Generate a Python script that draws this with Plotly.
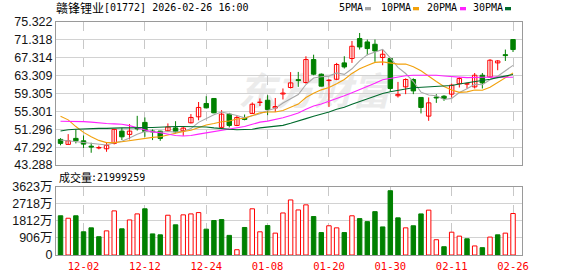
import plotly.graph_objects as go

# ---------------- data ----------------
dates = ["11-27", "11-28", "12-01", "12-02", "12-03", "12-04", "12-05", "12-08", "12-09", "12-10",
         "12-11", "12-12", "12-15", "12-16", "12-17", "12-18", "12-19", "12-22", "12-23", "12-24",
         "12-29", "12-30", "12-31", "01-02", "01-05", "01-06", "01-07", "01-08", "01-09", "01-12",
         "01-13", "01-14", "01-15", "01-16", "01-19", "01-20", "01-21", "01-22", "01-23", "01-26",
         "01-27", "01-28", "01-29", "01-30", "02-02", "02-03", "02-04", "02-05", "02-06", "02-09",
         "02-10", "02-11", "02-12", "02-13", "02-16", "02-20", "02-23", "02-24", "02-25", "02-26"]

opens = [49.02, 47.9, 49.25, 48.71, 47.5, 47.1, 46.92, 48.13, 50.88, 50.14,
         51.6, 52.83, 50.9, 50.88, 50.95, 51.6, 50.95, 52.74, 54.08, 57.07,
         58.19, 51.71, 54.68, 52.15, 53.8, 54.84, 57.3, 57.8, 56.05, 59.2,
         60.65, 62.4, 61.77, 66.91, 63.63, 62.2, 62.5, 66.16, 67.14, 71.61,
         70.85, 70.34, 67.36, 67.14, 58.8, 60.79, 62.44, 58.42, 54.24, 58.5,
         58.7, 59.16, 61.5, 61.4, 60.79, 63.4, 63.0, 66.16, 68.0, 71.39]
highs = [49.3, 50.2, 51.26, 49.9, 48.27, 47.6, 48.27, 51.3, 51.6, 52.45,
         54.3, 53.94, 51.26, 50.95, 52.6, 53.1, 52.0, 54.7, 57.4, 58.7,
         58.3, 55.58, 54.97, 54.3, 54.6, 57.3, 58.2, 58.93, 58.3, 60.43,
         64.1, 64.14, 67.65, 68.0, 63.8, 62.5, 66.16, 67.65, 71.07, 72.86,
         71.39, 71.4, 69.15, 67.36, 61.9, 62.7, 62.7, 58.42, 58.42, 59.16,
         58.93, 61.5, 63.0, 61.7, 63.9, 63.9, 67.0, 66.8, 69.15, 71.4]
lows = [47.7, 47.9, 48.13, 47.1, 46.03, 46.8, 46.25, 47.9, 48.87, 49.02,
        51.0, 49.6, 48.87, 48.71, 50.7, 50.37, 49.83, 52.6, 53.3, 55.96,
        54.9, 51.7, 51.7, 52.0, 53.3, 54.7, 56.5, 54.46, 55.2, 57.97,
        60.43, 60.79, 61.5, 63.4, 60.9, 56.3, 62.3, 64.9, 66.16, 69.15,
        67.88, 66.4, 65.64, 59.67, 58.4, 59.16, 59.16, 54.84, 53.18, 57.2,
        57.66, 58.4, 60.65, 60.4, 60.43, 60.43, 62.8, 64.52, 66.6, 68.6]
closes = [48.13, 48.71, 48.71, 47.97, 47.30, 47.20, 47.70, 51.26, 49.60, 50.88,
          51.40, 50.81, 50.70, 49.25, 51.80, 50.73, 51.55, 53.94, 56.18, 56.09,
          54.97, 54.68, 52.15, 53.94, 53.50, 56.90, 57.37, 55.73, 56.40, 59.40,
          61.68, 62.20, 66.91, 63.63, 60.95, 62.30, 65.80, 65.26, 69.89, 69.73,
          69.37, 68.84, 68.10, 60.43, 59.10, 62.44, 59.89, 56.18, 57.21, 58.30,
          58.20, 61.17, 62.66, 61.50, 63.40, 61.68, 66.76, 66.60, 67.80, 69.15]

# volume in 万 shares
volumes = [2080, 1950, 2080, 1230, 1440, 970, 1280, 2340, 1390, 1860,
           2180, 2450, 1120, 1070, 2110, 1600, 2130, 2180, 2250, 1370,
           1830, 1880, 1040, 280, 1460, 2450, 1230, 1560, 1160, 2230,
           2920, 2390, 2660, 2040, 1190, 1550, 1440, 1190, 2080, 1930,
           1770, 2300, 1490, 3410, 1970, 1440, 1550, 2180, 2380, 810,
           440, 1210, 1000, 860, 480, 390, 950, 1070, 1160, 2199.9259]
# 1 = closed above previous close (red), 0 = below (green)
vol_up = [0, 1, 0, 0, 0, 0, 1, 1, 0, 1,
          1, 0, 0, 0, 1, 0, 1, 1, 1, 0,
          0, 0, 0, 1, 0, 1, 1, 0, 1, 1,
          1, 1, 1, 0, 0, 1, 1, 0, 1, 0,
          0, 0, 0, 0, 0, 1, 0, 0, 1, 1,
          0, 1, 1, 0, 1, 0, 1, 0, 1, 1]

ma5 = [48.9, 48.7, 48.6, 48.4, 48.16, 47.98, 47.78, 48.29, 48.61, 49.33,
       50.17, 50.79, 50.68, 50.61, 50.79, 50.66, 50.81, 51.45, 52.84, 53.70,
       54.55, 55.17, 54.81, 54.37, 53.85, 54.23, 54.77, 55.49, 55.98, 57.16,
       58.12, 59.08, 61.32, 62.76, 63.07, 63.20, 63.92, 63.59, 64.84, 66.60,
       68.01, 68.62, 69.19, 67.29, 65.17, 63.78, 61.99, 59.61, 58.96, 58.80,
       57.96, 58.21, 59.51, 60.37, 61.39, 61.28, 62.40, 63.19, 64.45, 65.60]
ma10 = [54.2, 53.4, 51.9, 50.6, 49.6, 48.8, 48.3, 48.3, 48.5, 48.75,
        49.07, 49.28, 49.48, 49.61, 50.06, 50.41, 50.80, 51.07, 51.72, 52.25,
        52.60, 52.99, 53.13, 53.60, 53.77, 54.39, 54.97, 55.15, 55.17, 55.50,
        56.18, 56.93, 58.40, 59.37, 60.12, 60.66, 61.50, 62.45, 63.80, 64.84,
        65.60, 66.27, 66.39, 66.07, 65.88, 65.90, 65.31, 64.40, 63.13, 61.99,
        60.87, 60.10, 59.56, 59.67, 60.10, 60.02, 60.71, 61.75, 62.81, 63.89]
ma20 = [53.1, 53.1, 53.1, 53.0, 52.9, 52.7, 52.6, 52.5, 52.4, 52.1,
        51.6, 51.1, 50.7, 50.5, 50.2, 49.9, 49.8, 49.9, 50.2, 50.50,
        50.84, 51.14, 51.31, 51.61, 51.92, 52.40, 52.89, 53.11, 53.45, 53.87,
        54.39, 54.96, 55.77, 56.49, 56.95, 57.52, 58.24, 58.80, 59.49, 60.17,
        60.89, 61.60, 62.40, 62.72, 63.00, 63.28, 63.40, 63.43, 63.47, 63.41,
        63.24, 63.19, 62.97, 62.87, 62.99, 62.96, 63.01, 63.07, 62.97, 62.94]
ma30 = [50.9, 51.2, 51.3, 51.4, 51.5, 51.5, 51.5, 51.6, 51.6, 51.6,
        51.7, 51.7, 51.7, 51.8, 51.8, 51.9, 51.9, 51.9, 51.8, 51.8,
        51.6, 51.4, 51.3, 51.2, 51.2, 51.3, 51.6, 51.8, 52.0, 52.17,
        52.62, 53.07, 53.67, 54.20, 54.65, 55.15, 55.76, 56.22, 56.90, 57.53,
        58.13, 58.73, 59.31, 59.68, 59.92, 60.31, 60.59, 60.67, 60.70, 60.78,
        60.88, 61.10, 61.45, 61.70, 62.03, 62.19, 62.50, 62.87, 63.25, 63.57]

tick_labels = ["12-02", "12-12", "12-24", "01-08", "01-20", "01-30", "02-11", "02-26"]
price_ticks = [43.288, 47.292, 51.296, 55.301, 59.305, 63.309, 67.314, 71.318, 75.322]
price_tick_text = ["43.288", "47.292", "51.296", "55.301", "59.305", "63.309", "67.314", "71.318", "75.322"]
vol_ticks = [0, 906, 1812, 2718, 3623]
vol_tick_text = ["0", "906万", "1812万", "2718万", "3623万"]

title_cn = "赣锋锂业"
title_rest = "[01772] 2026-02-26 16:00"
vol_label_cn = "成交量"
vol_label_num = ":21999259"
ma_names = ["5PMA", "10PMA", "20PMA", "30PMA"]
watermark = "东方财富"

# ---------------- style ----------------
W, H = 578, 276
ML, MR, MT, MB = 56, 56, 22, 21
PW, PH = W - ML - MR, H - MT - MB
RED = "#ff0000"
GREEN = "#008000"
MA_COLORS = ["#a8a8a8", "#f2a10c", "#ff22ff", "#006b2d"]
BORDER = "#9a9a9a"
GRID = "#d2d2d2"
VGRID = "#c8c8c8"


def pxx(px):
    return (px - ML) / PW


def pxy(py):
    return (H - MB - py) / PH


n = len(dates)
up_idx = [i for i in range(n) if closes[i] >= opens[i]]
dn_idx = [i for i in range(n) if closes[i] < opens[i]]

fig = go.Figure()

# wicks
for idx, col in ((up_idx, RED), (dn_idx, GREEN)):
    xs, ys = [], []
    for i in idx:
        xs += [dates[i], dates[i], None]
        ys += [lows[i], highs[i], None]
    fig.add_trace(go.Scatter(x=xs, y=ys, mode="lines", line=dict(color=col, width=1),
                             xaxis="x", yaxis="y", hoverinfo="skip"))

# bodies
for idx, col, fill in ((up_idx, RED, "#ffffff"), (dn_idx, GREEN, GREEN)):
    fig.add_trace(go.Bar(
        x=[dates[i] for i in idx],
        base=[min(opens[i], closes[i]) for i in idx],
        y=[max(abs(closes[i] - opens[i]), 0.06) for i in idx],
        width=0.58,
        marker=dict(color=fill, line=dict(color=col, width=1)),
        xaxis="x", yaxis="y"))

# moving averages
for vals, col in zip((ma5, ma10, ma20, ma30), MA_COLORS):
    fig.add_trace(go.Scatter(x=dates, y=vals, mode="lines", line=dict(color=col, width=1.1),
                             xaxis="x", yaxis="y"))

# volume
for flag, col, fill in ((1, RED, "#ffffff"), (0, GREEN, GREEN)):
    idx = [i for i in range(n) if vol_up[i] == flag]
    fig.add_trace(go.Bar(
        x=[dates[i] for i in idx], y=[volumes[i] for i in idx], width=0.58,
        marker=dict(color=fill, line=dict(color=col, width=1)),
        xaxis="x2", yaxis="y2"))

xr = [-0.59, n + 0.17]
tickfont_y = dict(family="Liberation Sans, Arial, Noto Sans CJK SC", size=12.5, color="#141414")
common_x = dict(type="category", categoryorder="array", categoryarray=dates, range=xr,
                tickvals=tick_labels, showgrid=True, gridcolor=VGRID,
                griddash="dash", gridwidth=1, showline=True, mirror=True, linecolor=BORDER,
                linewidth=1, zeroline=False, ticks="", tickangle=0, automargin=False)
common_y = dict(showgrid=True, gridcolor=GRID, showline=True, mirror=True, linecolor=BORDER,
                zeroline=False, ticks="", tickfont=tickfont_y, automargin=False)
fig.update_layout(
    width=W, height=H, margin=dict(l=ML, r=MR, t=MT, b=MB, autoexpand=False),
    paper_bgcolor="white", plot_bgcolor="white", showlegend=False, barmode="overlay",
    xaxis=dict(domain=[0, 1], anchor="y", showticklabels=False, **common_x),
    xaxis2=dict(domain=[0, 1], anchor="y2", showticklabels=True,
                ticktext=tick_labels, ticklabelstandoff=1,
                tickfont=dict(family="DejaVu Sans Mono", size=10.5, color=RED), **common_x),
    yaxis=dict(domain=[pxy(165), 1], anchor="x", range=[price_ticks[0], price_ticks[-1]],
               tickvals=price_ticks, ticktext=price_tick_text, **common_y),
    yaxis2=dict(domain=[0, pxy(186.7)], anchor="x2", range=[0, vol_ticks[-1]],
                tickvals=vol_ticks, ticktext=vol_tick_text, **common_y),
)

# watermark (below data)
fig.add_shape(type="rect", xref="paper", yref="paper", x0=pxx(236), x1=pxx(392),
              y0=pxy(116), y1=pxy(72), line=dict(width=0), fillcolor="rgba(0,0,0,0)",
              layer="below",
              label=dict(text=watermark, textposition="middle center",
                         font=dict(size=38, color="#ebebeb", family="Noto Sans CJK SC",
                                   weight="bold", style="italic")))

# title
fig.add_annotation(text=title_cn, xref="paper", yref="paper", x=pxx(55), y=pxy(7.5),
                   xanchor="left", yanchor="middle", showarrow=False, borderpad=0,
                   font=dict(family="Noto Sans CJK SC", size=12, color="#000000"))
fig.add_annotation(text=title_rest, xref="paper", yref="paper", x=pxx(103), y=pxy(8),
                   xanchor="left", yanchor="middle", showarrow=False, borderpad=0,
                   font=dict(family="DejaVu Sans Mono", size=10, color="#000000"))

# MA legend
legend_text_x = [338, 380, 425.7, 471.7]
legend_box_x = [365, 413, 460, 505]
for name, tx, bx, col in zip(ma_names, legend_text_x, legend_box_x, MA_COLORS):
    fig.add_annotation(text=name, xref="paper", yref="paper", x=pxx(tx), y=pxy(8),
                       xanchor="left", yanchor="middle", showarrow=False, borderpad=0,
                       font=dict(family="DejaVu Sans Mono", size=10, color="#000000"))
    fig.add_shape(type="rect", xref="paper", yref="paper", x0=pxx(bx), x1=pxx(bx + 6),
                  y0=pxy(10.3), y1=pxy(7.0), line=dict(width=0), fillcolor=col)

# volume label
fig.add_annotation(text=vol_label_cn, xref="paper", yref="paper", x=pxx(57.5), y=pxy(176.5),
                   xanchor="left", yanchor="middle", showarrow=False, borderpad=0,
                   font=dict(family="Noto Sans CJK SC", size=11, color="#000000"))
fig.add_annotation(text=vol_label_num, xref="paper", yref="paper", x=pxx(90), y=pxy(177),
                   xanchor="left", yanchor="middle", showarrow=False, borderpad=0,
                   font=dict(family="DejaVu Sans Mono", size=10, color="#000000"))

fig.write_html("out.html")
